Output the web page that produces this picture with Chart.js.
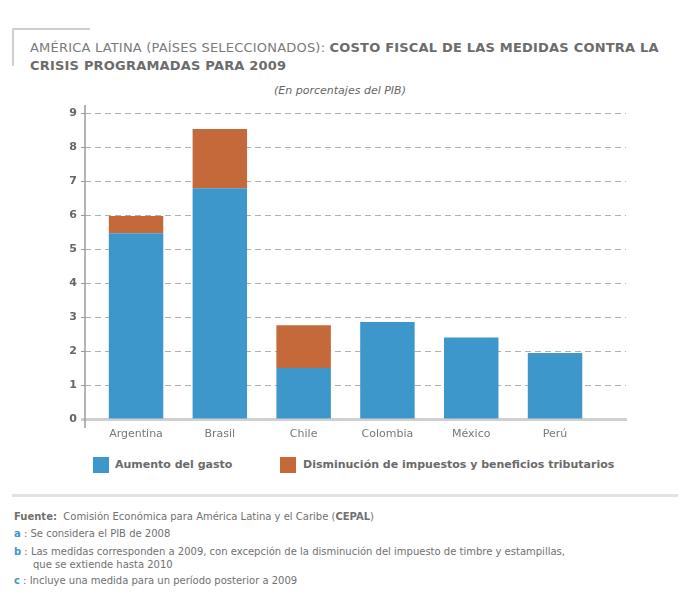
<!DOCTYPE html>
<html>
<head>
<meta charset="utf-8">
<script src="https://cdn.jsdelivr.net/npm/chart.js@4.4.0/dist/chart.umd.min.js"></script>
<style>
  html, body { margin:0; padding:0; background:#fff; }
  body { width:698px; height:604px; position:relative; overflow:hidden; font-family:"DejaVu Sans", Verdana, sans-serif; }
  .abs { position:absolute; white-space:nowrap; }
  #bracketH { position:absolute; left:12px; top:28px; width:78px; height:2px; background:#cfcfcf; }
  #bracketV { position:absolute; left:12px; top:28px; width:2px; height:38px; background:#cfcfcf; }
  #title { left:30px; top:39px; font-size:13px; line-height:17.5px; color:#7a7a7a; letter-spacing:0.2px; }
  #title b { color:#6c6c6c; }
  #subtitle { left:0; width:680px; text-align:center; top:84px; font-size:11px; line-height:14px; font-style:italic; color:#666; }
  #chartWrap { position:absolute; left:0; top:100px; width:698px; height:345px; }
  .legItem { position:absolute; top:457px; height:16px; line-height:16px; font-size:11px; font-weight:bold; color:#6a6a6a; }
  .legBox { position:absolute; top:457px; width:16px; height:16px; }
  #sep { position:absolute; left:12px; top:494px; width:666px; height:3px; background:#e2e2e2; }
  .fn { position:absolute; left:14px; font-size:10px; line-height:13px; color:#707070; white-space:nowrap; }
  .fn b.l { color:#3d97cb; }
</style>
</head>
<body>
<div id="bracketH"></div><div id="bracketV"></div>
<div id="title" class="abs">AMÉRICA LATINA (PAÍSES SELECCIONADOS): <b>COSTO FISCAL DE LAS MEDIDAS CONTRA LA</b><br><b>CRISIS PROGRAMADAS PARA 2009</b></div>
<div id="subtitle" class="abs">(En porcentajes del PIB)</div>
<div id="chartWrap"><canvas id="c"></canvas></div>
<div id="legend"></div>
<div id="sep"></div>
<div class="fn" style="top:510px"><b>Fuente:</b>&nbsp; Comisión Económica para América Latina y el Caribe (<b>CEPAL</b>)</div>
<div class="fn" style="top:527px"><b class="l">a</b> : Se considera el PIB de 2008</div>
<div class="fn" style="top:545px"><b class="l">b</b> : Las medidas corresponden a 2009, con excepción de la disminución del impuesto de timbre y estampillas,</div>
<div class="fn" style="top:558px; left:33px">que se extiende hasta 2010</div>
<div class="fn" style="top:574px"><b class="l">c</b> : Incluye una medida para un período posterior a 2009</div>
<script>
const countries = ["Argentina", "Brasil", "Chile", "Colombia", "México", "Perú"];
const seriesNames = ["Aumento del gasto", "Disminución de impuestos y beneficios tributarios"];
const aumentoGasto = [5.46, 6.79, 1.50, 2.85, 2.40, 1.94];
const disminucionImpuestos = [0.51, 1.74, 1.26, 0, 0, 0];
const yTicks = [0, 1, 2, 3, 4, 5, 6, 7, 8, 9];
const colors = ["#3e97cb", "#c4693a"];

// HTML legend
const legend = document.getElementById('legend');
const legPos = [{box:93, text:115}, {box:280, text:303}];
seriesNames.forEach((n, i) => {
  const b = document.createElement('div'); b.className = 'legBox';
  b.style.left = legPos[i].box + 'px'; b.style.background = colors[i];
  const t = document.createElement('div'); t.className = 'legItem';
  t.style.left = legPos[i].text + 'px'; t.textContent = n;
  legend.appendChild(b); legend.appendChild(t);
});

const axisLine = {
  id: 'axisLine',
  afterDraw(chart) {
    const {ctx, chartArea} = chart;
    ctx.save();
    ctx.strokeStyle = '#9a9a9a';
    ctx.lineWidth = 1.5;
    ctx.beginPath();
    ctx.moveTo(chartArea.left, chartArea.top - 8);
    ctx.lineTo(chartArea.left, chartArea.bottom + 9);
    ctx.stroke();
    ctx.restore();
  }
};

const toPts = arr => arr.map((v, i) => ({x: i, y: v}));

new Chart(document.getElementById('c'), {
  type: 'bar',
  data: {
    datasets: [
      { label: seriesNames[0], data: toPts(aumentoGasto), backgroundColor: colors[0], stack: 's' },
      { label: seriesNames[1], data: toPts(disminucionImpuestos), backgroundColor: colors[1], stack: 's' }
    ]
  },
  options: {
    responsive: true,
    maintainAspectRatio: false,
    animation: false,
    layout: { padding: { top: 13, left: 0, right: 72, bottom: 0 } },
    plugins: { legend: { display: false }, tooltip: { enabled: false } },
    datasets: { bar: { categoryPercentage: 1, barPercentage: 0.65 } },
    scales: {
      x: {
        type: 'linear',
        stacked: true,
        offset: false,
        min: -0.609,
        max: 5.847,
        afterBuildTicks: s => { s.ticks = countries.map((c, i) => ({value: i})); },
        afterFit: s => { s.height = 26; },
        grid: { display: false, drawTicks: false, offset: false },
        border: { display: true, color: '#d0d0d0', width: 3 },
        ticks: {
          autoSkip: false, maxRotation: 0, padding: 9,
          color: '#777', font: { family: 'DejaVu Sans', size: 11 },
          callback: v => countries[v] ?? ''
        }
      },
      y: {
        stacked: true,
        min: 0, max: 9,
        afterBuildTicks: s => { s.ticks = yTicks.map(v => ({value: v})); },
        afterFit: s => { s.width = 85; },
        border: { display: false, dash: [6, 4] },
        grid: {
          color: c => c.tick && c.tick.value === 0 ? 'rgba(0,0,0,0)' : '#b0b0b0',
          tickColor: c => c.tick && c.tick.value === 0 ? '#d0d0d0' : '#9a9a9a',
          lineWidth: 1,
          tickWidth: c => c.tick && c.tick.value === 0 ? 3 : 1,
          tickLength: 4,
          tickBorderDash: []
        },
        ticks: {
          padding: 4, color: '#666',
          font: { family: 'DejaVu Sans', size: 11, weight: 'bold' }
        }
      }
    }
  },
  plugins: [axisLine]
});
</script>
</body>
</html>
